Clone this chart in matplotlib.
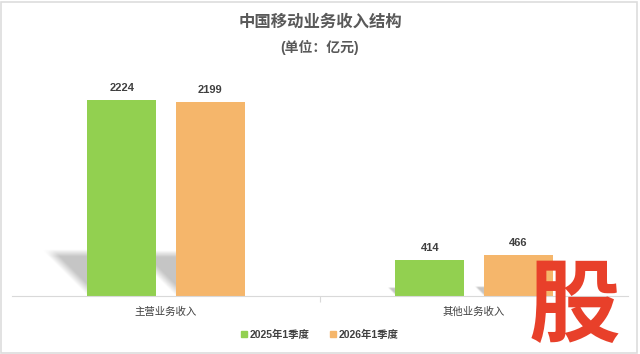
import matplotlib
matplotlib.use("Agg")
import matplotlib.pyplot as plt
import numpy as np
from matplotlib.patches import Rectangle

plt.rcParams['font.family'] = ['Liberation Sans', 'Noto Sans CJK SC', 'DejaVu Sans']

categories = ["主营业务收入", "其他业务收入"]
series_names = ["2025年1季度", "2026年1季度"]
values_2025 = [2224, 414]
values_2026 = [2199, 466]
colors = ["#92D050", "#F5B66B"]

fig = plt.figure(figsize=(6.4, 3.54), dpi=100)
W, H = 640, 354
ax_left, ax_w, ax_bot, ax_h = 12, 616, 296, 216
ax = fig.add_axes([ax_left / W, 1 - ax_bot / H, ax_w / W, ax_h / H])
ymax = 2451
xspan = 2.0
px_per_y = ax_h / ymax
px_per_x = ax_w / xspan

x = np.arange(len(categories))
width = 0.224
offset = 0.143

# soft shadow image template
n = 80
u, v = np.meshgrid(np.linspace(0, 1, n), np.linspace(0, 1, n))
alpha = np.clip((u + v - 1) / 0.25, 0, 1) * np.clip((1 - v) / 0.15, 0, 1) * 0.5
shadow = np.zeros((n, n, 4))
shadow[..., :3] = 0.55
shadow[..., 3] = alpha

for vals, off, c in [(values_2025, -offset, colors[0]), (values_2026, offset, colors[1])]:
    bars = ax.bar(x + off, vals, width, color=c, zorder=3)
    for b, val in zip(bars, vals):
        hx = b.get_x()
        sh_y = 0.235 * val
        sh_x = sh_y * px_per_y / px_per_x
        ax.imshow(shadow, extent=[hx - sh_x, hx, 0, sh_y], origin="lower",
                  aspect="auto", zorder=2, interpolation="bilinear")
        ax.annotate(str(val), (b.get_x() + b.get_width() / 2, val), xytext=(0, 5),
                    textcoords="offset points", ha="center", va="bottom",
                    fontsize=8, fontweight="bold", color="#404040")

ax.set_xlim(-0.5, 1.5)
ax.set_ylim(0, ymax)
ax.set_yticks([])
ax.set_xticks([0.5])
ax.set_xticklabels([""])
ax.tick_params(axis="x", length=4, color="#D9D9D9", width=0.8)
for s in ["top", "right", "left"]:
    ax.spines[s].set_visible(False)
ax.spines["bottom"].set_color("#D9D9D9")
ax.spines["bottom"].set_linewidth(0.8)
ax.spines["bottom"].set_zorder(4)

for xi, cat in zip(x, categories):
    ax.text(xi, -0.075, cat, transform=ax.get_xaxis_transform(), ha="center", va="center",
            fontsize=7.5, color="#404040")

fig.text(0.5, 1 - 22 / H, "中国移动业务收入结构", ha="center", va="center",
         fontsize=11.8, fontweight="bold", color="#595959")
fig.text(0.5, 1 - 47 / H, "(单位：亿元)", ha="center", va="center",
         fontsize=10, fontweight="bold", color="#595959")

# legend
handles = [Rectangle((0, 0), 1, 1, color=c) for c in colors]
fig.legend(handles, series_names, loc="center", bbox_to_anchor=(0.5, 1 - 335 / H),
           ncol=2, frameon=False, handlelength=0.5, handleheight=0.5,
           handletextpad=0.3, columnspacing=2.0, labelcolor="#404040",
           prop={'weight': 'bold', 'size': 7.5,
                 'family': ['Liberation Sans', 'Noto Sans CJK SC']})

# watermark
fig.text(574 / W, 1 - 311 / H, "股", ha="center", va="center", fontsize=66,
         fontweight="heavy", color="#E8402A")

fig.patches.append(Rectangle((0.002, 0.003), 0.994, 0.99, transform=fig.transFigure,
                             fill=False, edgecolor="#DDDDDD", linewidth=1.2))

fig.savefig("out.png", dpi=100, facecolor="white")
